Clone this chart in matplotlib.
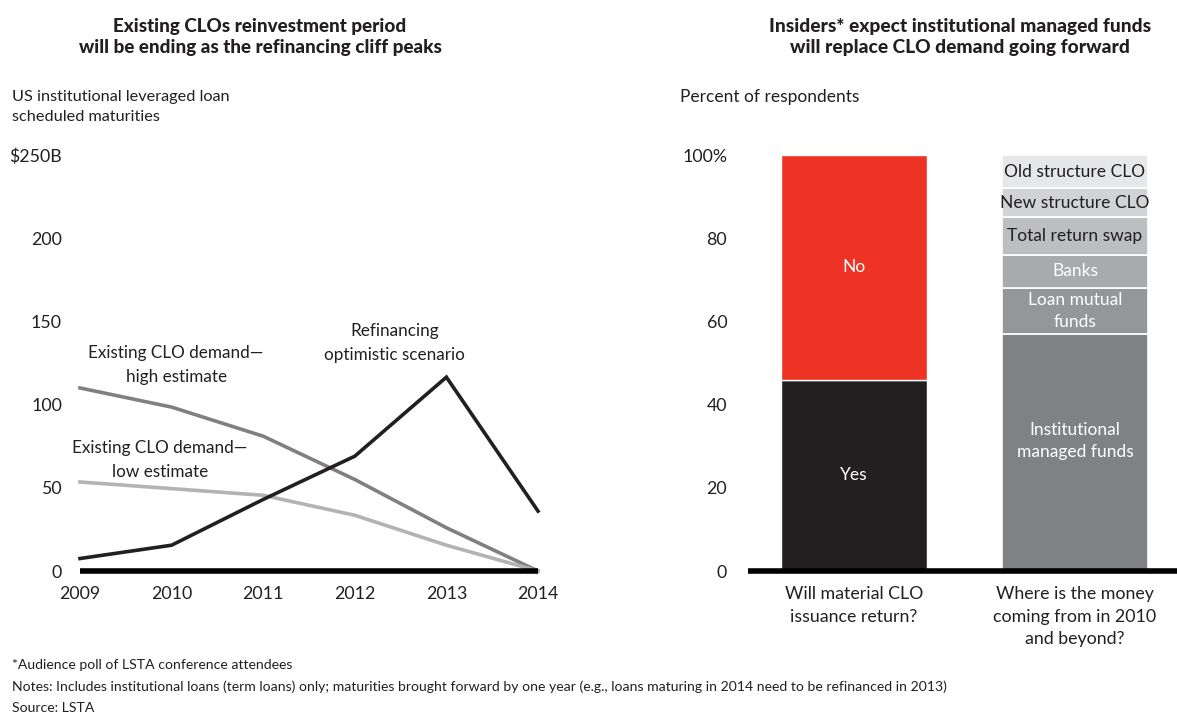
import matplotlib
matplotlib.use("Agg")
import matplotlib.pyplot as plt

plt.rcParams['font.family'] = ['Lato', 'DejaVu Sans']

W, H = 1177, 712

# left chart data
years = [2009, 2010, 2011, 2012, 2013, 2014]
clo_high = [110, 98.5, 81, 55, 26, 0]
clo_low = [53.5, 49.5, 45.5, 33.5, 15.5, 0]
refinancing = [7.5, 15.5, 43, 69, 116.5, 36]
left_yticks = [0, 50, 100, 150, 200, 250]
left_yticklabels = ['0', '50', '100', '150', '200', '$250B']

# right chart data
questions = ['Will material CLO\nissuance return?',
             'Where is the money\ncoming from in 2010\nand beyond?']
poll_labels = ['Yes', 'No']
poll_values = [46, 54]
source_labels = ['Institutional\nmanaged funds', 'Loan mutual\nfunds', 'Banks',
                 'Total return swap', 'New structure CLO', 'Old structure CLO']
source_values = [57, 11, 8, 9, 7, 8]
right_yticks = [0, 20, 40, 60, 80, 100]
right_yticklabels = ['0', '20', '40', '60', '80', '100%']

BLACK = '#231f20'
RED = '#ee3224'
source_colors = ['#808184', '#949699', '#a8aaad', '#bcbec0', '#d1d3d4', '#e6e7e8']
source_text = ['white', 'white', 'white', BLACK, BLACK, BLACK]

TICK_FS = 12.8


def px_axes(fig, x0, x1, ytop, ybot):
    return fig.add_axes([x0 / W, (H - ybot) / H, (x1 - x0) / W, (ybot - ytop) / H])


fig = plt.figure(figsize=(W / 100, H / 100), dpi=100)

# ---------- left panel ----------
ax = px_axes(fig, 80, 538, 155, 571)
ax.plot(years, clo_high, color='#808080', lw=2.6, clip_on=False, solid_joinstyle='miter')
ax.plot(years, clo_low, color='#b3b3b3', lw=2.6, clip_on=False, solid_joinstyle='miter')
ax.plot(years, refinancing, color=BLACK, lw=2.6, clip_on=False, solid_joinstyle='miter')
ax.plot([years[0], years[-1]], [0, 0], color='black', lw=4, clip_on=False, solid_capstyle='butt')
ax.set_xlim(2009, 2014)
ax.set_ylim(0, 250)
ax.set_xticks(years)
ax.set_xticklabels([str(y) for y in years])
ax.set_yticks(left_yticks)
ax.set_yticklabels(left_yticklabels, ha='right')
ax.tick_params(length=0, labelsize=TICK_FS, colors=BLACK)
ax.tick_params(axis='y', pad=13)
ax.tick_params(axis='x', pad=11)
for s in ax.spines.values():
    s.set_visible(False)

ax.text(2010.05, 124, 'Existing CLO demand—\nhigh estimate', ha='center', va='center',
        fontsize=12.3, color=BLACK, linespacing=1.6)
ax.text(2009.87, 66.5, 'Existing CLO demand—\nlow estimate', ha='center', va='center',
        fontsize=12.3, color=BLACK, linespacing=1.6)
ax.text(2012.43, 137, 'Refinancing\noptimistic scenario', ha='center', va='center',
        fontsize=12.3, color=BLACK, linespacing=1.6)

fig.text(260 / W, 1 - 37 / H, 'Existing CLOs reinvestment period\nwill be ending as the refinancing cliff peaks',
         ha='center', va='center', fontsize=13.6, fontweight='black', color=BLACK, linespacing=1.3)
fig.text(12 / W, 1 - 107 / H, 'US institutional leveraged loan\nscheduled maturities',
         ha='left', va='center', fontsize=11.7, color=BLACK, linespacing=1.6)

# ---------- right panel ----------
ax2 = px_axes(fig, 748, 1177, 155, 571)
xl = -106 / 221
xr = 1 + 102 / 221
bw = 146 / 221
bottom = 0
for lab, val, col in zip(poll_labels, poll_values, [BLACK, RED]):
    ax2.bar(0, val, bottom=bottom, width=bw, color=col, edgecolor='white', linewidth=1)
    ax2.text(0, bottom + val / 2, lab, ha='center', va='center', color='white', fontsize=12.5)
    bottom += val
bottom = 0
for lab, val, col, tc in zip(source_labels, source_values, source_colors, source_text):
    ax2.bar(1, val, bottom=bottom, width=bw, color=col, edgecolor='white', linewidth=1.2)
    ty = bottom + val / 2
    if lab.startswith('Institutional'):
        ty = 31.3
    ax2.text(1, ty, lab, ha='center', va='center', color=tc, fontsize=12.5, linespacing=1.45)
    bottom += val
ax2.plot([xl, xr], [0, 0], color='black', lw=4, clip_on=False, solid_capstyle='butt')
ax2.set_xlim(xl, xr)
ax2.set_ylim(0, 100)
ax2.set_xticks([0, 1])
ax2.set_xticklabels(questions, linespacing=1.5)
ax2.set_yticks(right_yticks)
ax2.set_yticklabels(right_yticklabels, ha='right')
ax2.tick_params(length=0, labelsize=TICK_FS, colors=BLACK)
ax2.tick_params(axis='y', pad=15)
ax2.tick_params(axis='x', pad=11)
for s in ax2.spines.values():
    s.set_visible(False)

fig.text(960 / W, 1 - 37 / H, 'Insiders* expect institutional managed funds\nwill replace CLO demand going forward',
         ha='center', va='center', fontsize=13.8, fontweight='black', color=BLACK, linespacing=1.3)
fig.text(680 / W, 1 - 97 / H, 'Percent of respondents', ha='left', va='center',
         fontsize=12.5, color=BLACK)

# ---------- footnotes ----------
fig.text(12 / W, 1 - 665 / H, '*Audience poll of LSTA conference attendees',
         ha='left', va='center', fontsize=10.1, color=BLACK)
fig.text(12 / W, 1 - 687 / H, 'Notes: Includes institutional loans (term loans) only; maturities brought forward by one year '
         '(e.g., loans maturing in 2014 need to be refinanced in 2013)',
         ha='left', va='center', fontsize=10.1, color=BLACK)
fig.text(12 / W, 1 - 708 / H, 'Source: LSTA', ha='left', va='center', fontsize=10.1, color=BLACK)

fig.savefig('out.png', dpi=100)
